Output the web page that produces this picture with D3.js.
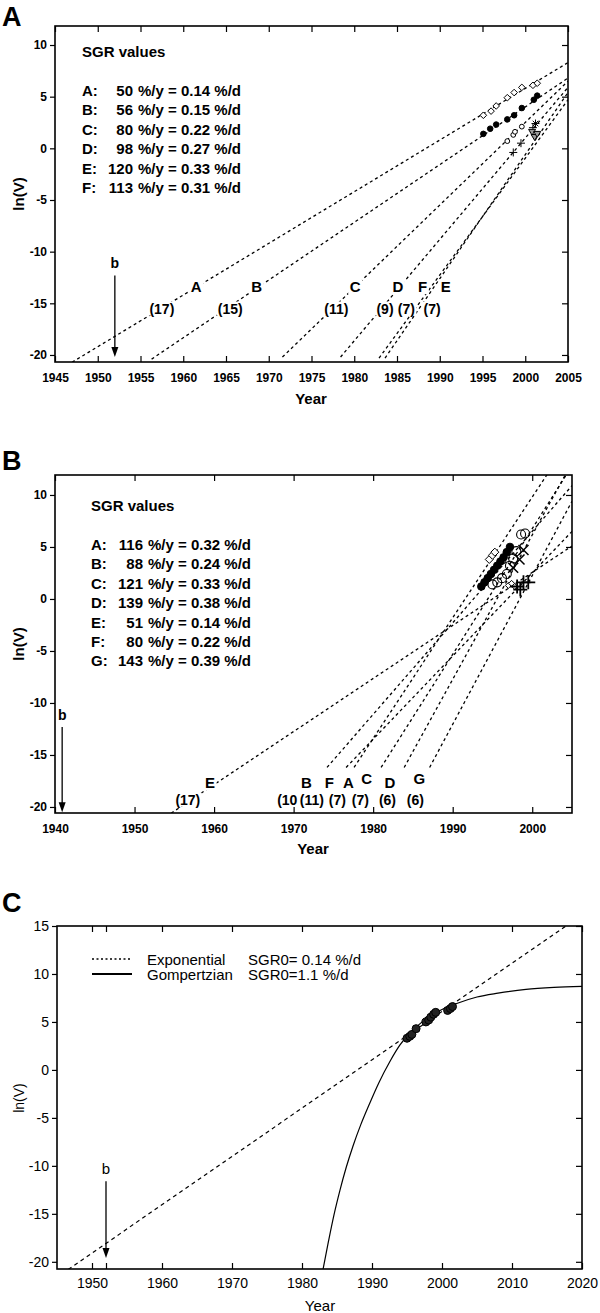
<!DOCTYPE html>
<html><head><meta charset="utf-8">
<script src="https://cdn.jsdelivr.net/npm/d3@7/dist/d3.min.js"></script>
<style>body{margin:0;background:#fff}svg{display:block}</style>
</head><body>
<script>
// ===================== DATA =====================
// ---- Panel A ----
const yearTicksA = [1945,1950,1955,1960,1965,1970,1975,1980,1985,1990,1995,2000,2005];
const lnTicksAB = [10,5,0,-5,-10,-15,-20];
const sgrIdsA = ["A","B","C","D","E","F"];
const sgrPctYA = [50,56,80,98,120,113];
const sgrPctDA = ["0.14","0.15","0.22","0.27","0.33","0.31"];
const fitX0A = [1947.0,1956.3,1971.6,1978.4,1983.6,1982.9];
const fitY0A = [-20.7,-20.4,-20.2,-20.2,-20.3,-20.3];
const fitX1A = [2005,2005,2005,2005,2005,2005];
const fitY1A = [8.3,6.8,6.5,5.9,5.4,4.7];
const letterTxtA = ["A","B","C","D","F","E"];
const letterYearA = [1961.5,1968.6,1980.1,1985.1,1988.0,1990.7];
const letterLnA = -13.4;
const countTxtA = ["(17)","(15)","(11)","(9)","(7)","(7)"];
const countYearA = [1957.5,1965.5,1977.9,1983.6,1986.1,1989.1];
const countLnA = -15.5;
const diamondYearA = [1995.1,1996.0,1996.6,1997.9,1998.7,1999.6,2000.9,2001.4];
const diamondLnA   = [3.2,3.6,4.1,4.9,5.4,5.9,6.1,6.3];
const dotYearA = [1995.1,1995.9,1996.6,1997.9,1998.7,1999.6,2001.0,2001.4];
const dotLnA   = [1.4,1.9,2.3,2.8,3.2,3.9,4.7,5.1];
const ringYearA = [1997.9,1998.6,1998.8,1999.6];
const ringLnA   = [0.7,1.3,1.6,2.1];
const plusYearA = [1998.6,1999.5,2000.9];
const plusLnA   = [-0.4,0.5,2.0];
const triYearA = [2000.8,2001.1,2001.4];
const triLnA   = [1.6,1.1,1.4];
const starYearA = [2001.2];
const starLnA   = [2.4];
const arrowYearA = 1952, arrowTopLnA = -12.3, arrowTipLnA = -20.2, bTextLnA = -11.6;

// ---- Panel B ----
const yearTicksB = [1940,1950,1960,1970,1980,1990,2000];
const sgrIdsB = ["A","B","C","D","E","F","G"];
const sgrPctYB = [116,88,121,139,51,80,143];
const sgrPctDB = ["0.32","0.24","0.33","0.38","0.14","0.22","0.39"];
const fitX0B = [1954.6,1974.2,1976.6,1977.6,1981.0,1983.9,1987.1];
const fitY0B = [-20.6,-16.2,-16.2,-16.2,-16.2,-16.2,-16.2];
const fitX1B = [2005,2005,2005,2005,2005,2005,2005];
const fitY1B = [5.1,10.9,6.5,15.6,12.8,13.1,9.4];
const letterTxtB = ["E","B","F","A","C","D","G"];
const letterYearB = [1959.5,1971.6,1974.5,1976.9,1979.2,1982.1,1985.8];
const letterLnB = [-17.7,-17.7,-17.7,-17.7,-17.3,-17.7,-17.3];
const countTxtB = ["(17)","(10","(11)","(7)","(7)","(6)","(6)"];
const countYearB = [1956.7,1969.2,1972.3,1975.5,1978.4,1981.8,1985.3];
const countLnB = -19.3;
const dotYearB = [1993.6,1994.0,1994.4,1994.8,1995.2,1995.6,1996.0,1996.4,1996.8,1997.2];
const dotLnB   = [1.2,1.6,2.0,2.4,2.8,3.2,3.6,4.0,4.5,5.0];
const diamondYearB = [1994.6,1995.0,1995.3];
const diamondLnB   = [3.8,4.2,4.5];
const ringYearB = [1995.0,1995.6,1996.2,1996.8,1997.2,1997.6,1998.0,1998.6,1999.1];
const ringLnB   = [1.4,1.6,2.0,2.4,3.2,3.9,4.6,6.2,6.3];
const timesYearB = [1997.6,1998.4,1998.9];
const timesLnB   = [3.0,3.8,4.7];
const plusYearB = [1998.1,1998.5,1998.9,1999.5];
const plusLnB   = [1.2,0.9,1.6,1.6];
const smallDiaYearB = [1997.0,1997.4,1997.8];
const smallDiaLnB   = [1.3,1.5,1.2];
const arrowYearB = 1940.9, arrowTopLnB = -12.3, arrowTipLnB = -20.5, bTextLnB = -11.6;

// ---- Panel C ----
const yearTicksC = [1950,1952,1960,1970,1980,1990,2000,2010,2020];
const lnTicksC = [15,10,5,0,-5,-10,-15,-20];
const expYearC = [1946.6,2017.7];
const expLnC   = [-20.8,15.0];
const gompYearC = [1983.0,1983.8,1984.6,1985.4,1986.3,1987.3,1988.4,1989.6,1991.0,1992.5,1994.0,1995.5,1997.0,1998.5,2000.0,2002.0,2005.0,2008.0,2012.0,2016.0,2020.0];
const gompLnC   = [-20.8,-17.8,-15.0,-12.6,-10.2,-7.9,-5.7,-3.6,-1.3,0.8,2.6,3.9,4.9,5.7,6.3,6.9,7.6,8.0,8.4,8.6,8.7];
const dataYearC = [1995.0,1995.4,1995.7,1996.3,1997.7,1998.1,1998.4,1998.8,1999.1,2000.8,2001.2,2001.5];
const dataLnC   = [3.3,3.5,3.7,4.3,5.0,5.2,5.5,5.8,6.0,6.2,6.4,6.6];
const legendC = ["Exponential", "Gompertzian"];
const legendSgrC = ["SGR0= 0.14 %/d", "SGR0=1.1 %/d"];
const arrowYearC = 1952, arrowTopLnC = -11.6, arrowTipLnC = -19.6, bTextLnC = -10.9;

// ===================== DRAW =====================
const FONT = "'Liberation Sans', Arial, Helvetica, sans-serif";
const svg = d3.select("body").append("svg").attr("width",600).attr("height",1313)
  .style("font-family",FONT);

function txt(g, x, y, s, fs, bold, anchor) {
  return g.append("text").attr("x",x).attr("y",y).attr("text-anchor",anchor||"start")
    .style("font-family",FONT).style("font-size",fs+"px").style("font-weight",bold?"bold":"normal")
    .attr("fill","#000").text(s);
}
function axes(g, x, y, xt, yt, o) {
  const [x0,x1] = x.range(), [yb,ytop] = y.range();
  const fw = o.bold ? "bold" : "normal";
  const st = sel => {
    sel.attr("font-family",null).attr("font-size",null);
    sel.select(".domain").remove();
    sel.selectAll("line").attr("stroke","#000").attr("stroke-width",1.2);
    sel.selectAll("text").attr("fill","#000").style("font-family",FONT)
      .style("font-size",o.fs+"px").style("font-weight",fw);
  };
  const fmt = o.xFmt || (d => String(d));
  g.append("g").attr("transform",`translate(0,${yb})`)
    .call(d3.axisBottom(x).tickValues(xt).tickSize(-6).tickPadding(o.xPad).tickFormat(fmt)).call(st);
  g.append("g").attr("transform",`translate(0,${ytop})`)
    .call(d3.axisTop(x).tickValues(xt).tickSize(-6).tickFormat("")).call(st);
  g.append("g").attr("transform",`translate(${x0},0)`)
    .call(d3.axisLeft(y).tickValues(yt).tickSize(5).tickPadding(3).tickFormat(d => String(d))).call(st);
  g.append("g").attr("transform",`translate(${x1},0)`)
    .call(d3.axisRight(y).tickValues(yt).tickSize(-6).tickFormat("")).call(st);
  g.append("rect").attr("x",x0).attr("y",ytop).attr("width",x1-x0).attr("height",yb-ytop)
    .attr("fill","none").attr("stroke","#000").attr("stroke-width",1.6);
}
function clip(id, x, y) {
  const [x0,x1] = x.range(), [yb,ytop] = y.range();
  svg.append("clipPath").attr("id",id).append("rect")
    .attr("x",x0).attr("y",ytop).attr("width",x1-x0).attr("height",yb-ytop);
}
function fitLines(g, x, y, X0, Y0, X1, Y1, dash) {
  const line = d3.line().x(d => x(d[0])).y(d => y(d[1]));
  X0.forEach((v,i) => {
    g.append("path").attr("d", line([[X0[i],Y0[i]],[X1[i],Y1[i]]]))
      .attr("fill","none").attr("stroke","#000").attr("stroke-width",1.3)
      .attr("stroke-dasharray",dash);
  });
}
function boxedLabel(g, x, y, s, fs, bold) {
  const t = txt(g, x, y + 0.36*fs, s, fs, bold, "middle");
  const bb = t.node().getBBox();
  g.insert("rect", () => t.node()).attr("x",bb.x-1.5).attr("y",bb.y+1).attr("width",bb.width+3)
    .attr("height",bb.height-2).attr("fill","#fff");
}
function arrow(g, x, y, yr, lnTop, lnTip, lnText, fs, bold) {
  const xp = x(yr), y1 = y(lnTop), y2 = y(lnTip);
  g.append("line").attr("x1",xp).attr("x2",xp).attr("y1",y1).attr("y2",y2-8)
    .attr("stroke","#000").attr("stroke-width",1.3);
  g.append("path").attr("d",`M${xp-3.5},${y2-10}L${xp+3.5},${y2-10}L${xp},${y2}Z`).attr("fill","#000");
  txt(g, xp, y(lnText), "b", fs, bold, "middle");
}
function marks(g, x, y, X, Y, kind, r, opt) {
  opt = opt || {};
  X.forEach((v,i) => {
    const cx = x(X[i]), cy = y(Y[i]);
    let el;
    if (kind === "circle") {
      el = g.append("circle").attr("cx",cx).attr("cy",cy).attr("r",r);
    } else if (kind === "diamond") {
      el = g.append("path").attr("d",`M${cx},${cy-r}L${cx+r},${cy}L${cx},${cy+r}L${cx-r},${cy}Z`);
    } else if (kind === "plus") {
      el = g.append("path").attr("d",`M${cx-r},${cy}H${cx+r}M${cx},${cy-r}V${cy+r}`);
    } else if (kind === "times") {
      el = g.append("path").attr("d",`M${cx-r},${cy-r}L${cx+r},${cy+r}M${cx-r},${cy+r}L${cx+r},${cy-r}`);
    } else if (kind === "tri") {
      el = g.append("path").attr("d",`M${cx-r},${cy-r*0.7}L${cx+r},${cy-r*0.7}L${cx},${cy+r}Z`);
    } else if (kind === "star") {
      const a = r*0.7;
      el = g.append("path").attr("d",`M${cx-r},${cy}H${cx+r}M${cx},${cy-r}V${cy+r}M${cx-a},${cy-a}L${cx+a},${cy+a}M${cx-a},${cy+a}L${cx+a},${cy-a}`);
    }
    el.attr("fill",opt.fill||"none").attr("stroke","#000").attr("stroke-width",opt.sw||1);
  });
}
function legendRows(g, x0, xNum, xRest, yTitle, y0, dy, ids, py, pd) {
  txt(g, x0, yTitle, "SGR values", 15, true);
  ids.forEach((id,i) => {
    const yy = y0 + i*dy;
    txt(g, x0, yy, id + ":", 15, true);
    txt(g, xNum, yy, String(py[i]), 15, true, "end");
    txt(g, xRest, yy, "%/y = " + pd[i] + " %/d", 15, true);
  });
}

// ---------- Panel A ----------
{
  const g = svg.append("g");
  const x = d3.scaleLinear().domain([1945,2005]).range([55,568]);
  const y = d3.scaleLinear().domain([-20.68,11.84]).range([362,26]);
  clip("clipA", x, y);
  txt(g, 2, 26, "A", 27, true);
  const pg = g.append("g").attr("clip-path","url(#clipA)");
  fitLines(pg, x, y, fitX0A, fitY0A, fitX1A, fitY1A, "3,3");
  marks(pg, x, y, diamondYearA, diamondLnA, "diamond", 3.3, {fill:"#fff"});
  marks(pg, x, y, dotYearA, dotLnA, "circle", 2.8, {fill:"#000"});
  marks(pg, x, y, ringYearA, ringLnA, "circle", 2.4, {fill:"#fff"});
  marks(pg, x, y, plusYearA, plusLnA, "plus", 4, {sw:1});
  marks(pg, x, y, triYearA, triLnA, "tri", 3.5, {fill:"#999"});
  marks(pg, x, y, starYearA, starLnA, "star", 4, {sw:1});
  letterTxtA.forEach((s,i) => boxedLabel(g, x(letterYearA[i]), y(letterLnA), s, 15, true));
  countTxtA.forEach((s,i) => boxedLabel(g, x(countYearA[i]), y(countLnA), s, 14, true));
  arrow(g, x, y, arrowYearA, arrowTopLnA, arrowTipLnA, bTextLnA, 14, true);
  axes(g, x, y, yearTicksA, lnTicksAB, {fs:12, bold:true, xPad:11});
  legendRows(g, 82, 133, 138, 57, 96, 19.4, sgrIdsA, sgrPctYA, sgrPctDA);
  txt(g, 311, 404, "Year", 15, true, "middle");
  txt(g, 0, 0, "ln(V)", 15, true, "middle").attr("transform",`translate(24,194) rotate(-90)`);
}

// ---------- Panel B ----------
{
  const g = svg.append("g");
  const x = d3.scaleLinear().domain([1940,2005]).range([55,572]);
  const y = d3.scaleLinear().domain([-20.58,11.92]).range([813,475]);
  clip("clipB", x, y);
  txt(g, 2, 470, "B", 27, true);
  const pg = g.append("g").attr("clip-path","url(#clipB)");
  fitLines(pg, x, y, fitX0B, fitY0B, fitX1B, fitY1B, "3,3");
  marks(pg, x, y, dotYearB, dotLnB, "circle", 3.8, {fill:"#000"});
  marks(pg, x, y, ringYearB, ringLnB, "circle", 4.5, {fill:"none", sw:1.1});
  marks(pg, x, y, diamondYearB, diamondLnB, "diamond", 4, {fill:"#fff"});
  marks(pg, x, y, smallDiaYearB, smallDiaLnB, "diamond", 3, {fill:"#fff"});
  marks(pg, x, y, timesYearB, timesLnB, "times", 5, {sw:1.5});
  marks(pg, x, y, plusYearB, plusLnB, "plus", 7, {sw:1.8});
  letterTxtB.forEach((s,i) => boxedLabel(g, x(letterYearB[i]), y(letterLnB[i]), s, 15, true));
  countTxtB.forEach((s,i) => boxedLabel(g, x(countYearB[i]), y(countLnB), s, 14, true));
  arrow(g, x, y, arrowYearB, arrowTopLnB, arrowTipLnB, bTextLnB, 14, true);
  axes(g, x, y, yearTicksB, lnTicksAB, {fs:12, bold:true, xPad:11.5});
  legendRows(g, 91, 143, 148, 511, 550, 19.4, sgrIdsB, sgrPctYB, sgrPctDB);
  txt(g, 313, 854, "Year", 15, true, "middle");
  txt(g, 0, 0, "ln(V)", 15, true, "middle").attr("transform",`translate(24,644) rotate(-90)`);
}

// ---------- Panel C ----------
{
  const g = svg.append("g");
  const x = d3.scaleLinear().domain([1945,2020]).range([57,582]);
  const y = d3.scaleLinear().domain([-20.75,15]).range([1269,926]);
  clip("clipC", x, y);
  txt(g, 2, 912, "C", 27, true);
  const pg = g.append("g").attr("clip-path","url(#clipC)");
  const line = d3.line().x((d,i) => x(d[0])).y(d => y(d[1]));
  pg.append("path").attr("d", line(expYearC.map((v,i) => [v, expLnC[i]])))
    .attr("fill","none").attr("stroke","#000").attr("stroke-width",1.2).attr("stroke-dasharray","4,3.5");
  const curve = d3.line().x(d => x(d[0])).y(d => y(d[1])).curve(d3.curveMonotoneX);
  pg.append("path").attr("d", curve(gompYearC.map((v,i) => [v, gompLnC[i]])))
    .attr("fill","none").attr("stroke","#000").attr("stroke-width",1.2);
  marks(pg, x, y, dataYearC, dataLnC, "circle", 4, {fill:"#222", sw:1});
  arrow(g, x, y, arrowYearC, arrowTopLnC, arrowTipLnC, bTextLnC, 15, false);
  axes(g, x, y, yearTicksC, lnTicksC, {fs:14, bold:false, xPad:9, xFmt: d => d === 1952 ? "" : String(d)});
  // legend
  g.append("line").attr("x1",92).attr("x2",132).attr("y1",959).attr("y2",959)
    .attr("stroke","#000").attr("stroke-width",1.5).attr("stroke-dasharray","2,2.5");
  g.append("line").attr("x1",92).attr("x2",132).attr("y1",974).attr("y2",974)
    .attr("stroke","#000").attr("stroke-width",2);
  legendC.forEach((s,i) => {
    txt(g, 147, 965 + i*15, s, 15, false);
    txt(g, 248, 965 + i*15, legendSgrC[i], 15, false);
  });
  txt(g, 320, 1311, "Year", 15, false, "middle");
  txt(g, 0, 0, "ln(V)", 14, false, "middle").attr("transform",`translate(24,1098) rotate(-90)`);
}
</script>
</body></html>
